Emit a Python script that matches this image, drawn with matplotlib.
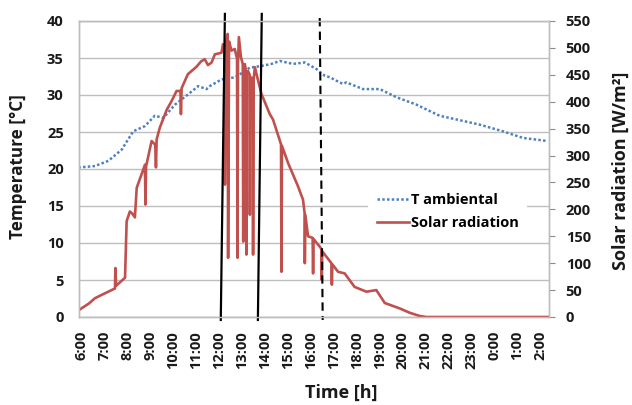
import matplotlib.pyplot as plt

plt.rcParams['font.family'] = ['Open Sans', 'DejaVu Sans']
plt.rcParams['font.weight'] = 'bold'
plt.rcParams['axes.labelweight'] = 'bold'

# horas del día (6 = 6:00, 24 = 0:00, 26 = 2:00)
t_amb_hours = [5.84, 6.57, 7.15, 7.73, 8.24, 8.75, 9.18, 9.55, 10.06, 10.64, 11.07,
               11.44, 11.58, 12.09, 12.7, 13.33, 13.8, 14.27, 14.64, 15.22, 15.73,
               16.24, 16.6, 16.82, 17.25, 17.4, 17.54, 18.27, 19.0, 19.73, 20.6,
               21.61, 22.34, 23.36, 24.37, 25.25, 26.27]
t_amb = [20.2, 20.4, 21.1, 22.6, 25.1, 25.8, 27.2, 26.9, 28.7, 30.1, 31.2,
         30.8, 31.2, 32.1, 32.4, 33.7, 33.9, 34.2, 34.6, 34.2, 34.4,
         33.5, 32.6, 32.4, 31.7, 31.5, 31.7, 30.8, 30.8, 29.7, 28.7,
         27.2, 26.7, 26.0, 25.1, 24.2, 23.8]

rad_hours = [5.87, 6.3, 6.57, 7.0, 7.44, 7.46, 7.49, 7.88, 7.95, 8.09,
             8.2, 8.31, 8.39, 8.6, 8.75, 8.77, 8.8, 9.04, 9.2, 9.23,
             9.26, 9.4, 9.7, 9.91, 10.13, 10.3, 10.32, 10.35, 10.62, 11.0,
             11.2, 11.36, 11.5, 11.66, 11.8, 12.09, 12.16, 12.22, 12.24, 12.28,
             12.36, 12.38, 12.42, 12.53, 12.67, 12.77, 12.79, 12.81, 12.85, 12.94,
             13.02, 13.04, 13.07, 13.11, 13.17, 13.18, 13.2, 13.25, 13.32, 13.33,
             13.35, 13.4, 13.46, 13.47, 13.49, 13.55, 13.69, 13.84, 14.2, 14.34,
             14.69, 14.71, 14.73, 15.0, 15.43, 15.65, 15.72, 15.73, 15.75, 15.87,
             16.07, 16.09, 16.11, 16.43, 16.45, 16.47, 16.49, 16.89, 16.91, 16.93,
             17.18, 17.47, 17.9, 18.42, 18.85, 19.22, 19.87, 20.3, 20.74, 21.03,
             26.4]
rad = [13, 25, 35, 44, 53, 91, 58, 73, 178, 196,
       192, 185, 240, 265, 283, 209, 280, 327, 320, 278,
       330, 352, 385, 401, 420, 420, 377, 425, 451, 465,
       475, 479, 468, 473, 488, 491, 507, 500, 246, 510,
       526, 110, 512, 495, 498, 480, 110, 470, 520, 483,
       470, 140, 465, 470, 455, 116, 450, 457, 450, 190,
       440, 445, 440, 116, 440, 464, 439, 414, 377, 367,
       321, 84, 318, 286, 243, 218, 193, 100, 190, 150,
       147, 81, 145, 128, 125, 69, 122, 100, 60, 98,
       84, 81, 56, 47, 50, 26, 16, 8, 2, 0,
       0]

hour_ticks = list(range(6, 27))
hour_labels = ['%d:00' % (h % 24) for h in hour_ticks]

fig = plt.figure(figsize=(6.32, 4.05), dpi=100)
ax1 = fig.add_axes([79 / 632, 1 - 317 / 405, 470 / 632, 296 / 405])
ax2 = ax1.twinx()

ln1, = ax1.plot(t_amb_hours, t_amb, color='#4F81BD', lw=1.8, ls=(0, (1, 0.9)),
                label='T ambiental')
ln2, = ax2.plot(rad_hours, rad, color='#C0504D', lw=1.9, label='Solar radiation')

ax1.set_xlim(5.87, 26.39)
ax1.set_ylim(0, 40)
ax1.set_yticks(range(0, 41, 5))
ax2.set_ylim(0, 550)
ax2.set_yticks(range(0, 551, 50))
ax1.set_xticks(hour_ticks)
ax1.set_xticklabels(hour_labels, rotation=90)

ax1.grid(axis='y', color='#BEBEBE', lw=1.0)
ax1.set_axisbelow(True)
for ax in (ax1, ax2):
    for s in ax.spines.values():
        s.set_color('#BEBEBE')
        s.set_linewidth(1.0)
ax1.tick_params(axis='both', length=0, labelsize=10.5, colors='#1a1a1a')
ax1.tick_params(axis='y', pad=11)
ax1.tick_params(axis='x', pad=10)
ax2.tick_params(axis='y', length=4, color='#8C8C8C', labelsize=10.5,
                labelcolor='#1a1a1a', pad=8)

ax1.set_ylabel('Temperature [°C]', fontsize=12.3, color='#1a1a1a')
ax1.yaxis.set_label_coords(-0.111, 0.507)
ax2.set_ylabel('Solar radiation [W/m²]', fontsize=13, color='#1a1a1a')
ax2.yaxis.set_label_coords(1.134, 0.493)
ax1.set_xlabel('Time [h]', fontsize=13, color='#1a1a1a')
ax1.xaxis.set_label_coords(0.557, -0.225)

# líneas verticales que marcan los intervalos
tr = ax2.get_xaxis_transform()
ax2.plot([12.24, 12.06], [1.024, -0.01], color='black', lw=1.6, transform=tr, clip_on=False)
ax2.plot([13.85, 13.68], [1.024, -0.01], color='black', lw=1.6, transform=tr, clip_on=False)
ax2.plot([16.38, 16.51], [1.01, -0.01], color='black', lw=1.5, ls=(0, (4, 2.5)),
         transform=tr, clip_on=False)

leg = ax2.legend(handles=[ln1, ln2], loc='center left', bbox_to_anchor=(0.6, 0.356),
                 frameon=True, facecolor='white', edgecolor='white', framealpha=1,
                 fontsize=10.5, handlelength=2.2, handletextpad=0.1, borderpad=0.6,
                 labelspacing=0.6)
leg.get_frame().set_linewidth(0)

fig.savefig('out.png', dpi=100)
